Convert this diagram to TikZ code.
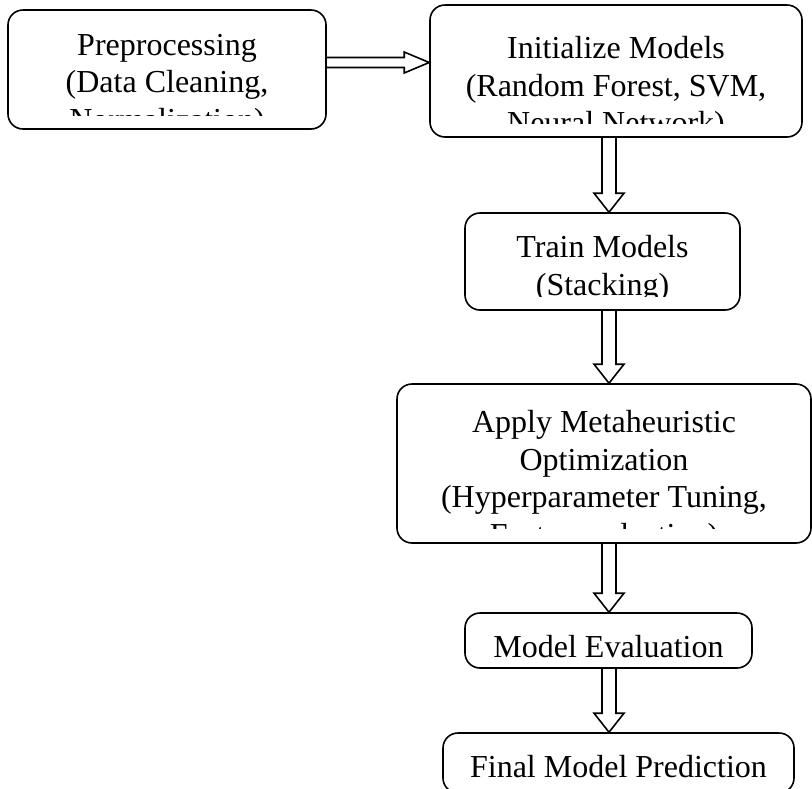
\documentclass[tikz,border=0pt]{standalone}
\usepackage{fontspec}
\setmainfont{Liberation Serif}
\usepackage{tikz}
\usetikzlibrary{calc}
\tikzset{
  flow/box/.style={draw, line width=1.6pt, rounded corners=15pt, inner sep=0pt},
  flow/text/.style={font=\fontsize{32}{37.5}\selectfont, align=center, inner sep=0pt, minimum size=0pt,
    execute at begin node=\strut},
  flow/label/.style n args={3}{path picture={
    \clip[sharp corners] ([yshift=#3]path picture bounding box.south west) rectangle (path picture bounding box.north east);
    \node[flow/text, anchor=north] at ([yshift=22.5pt-#2]path picture bounding box.north) {#1};}},
  flow/arrow/.style n args={3}{line width=1.6pt, to path={
    let \p1=($(\tikztotarget)!#3!(\tikztostart)$) in
    ($(\tikztostart)!#1!90:(\tikztotarget)$) -- ($(\p1)!#1!90:(\tikztotarget)$)
    -- ($(\p1)!#2!90:(\tikztotarget)$) -- (\tikztotarget)
    -- ($(\p1)!#2!-90:(\tikztotarget)$) -- ($(\p1)!#1!-90:(\tikztotarget)$)
    -- ($(\tikztostart)!#1!-90:(\tikztotarget)$)}}
}

\begin{document}
\begin{tikzpicture}[x=1pt, y=-1pt]
  \clip (0,0) rectangle (812,788);

  \node[flow/box, minimum width=318pt, minimum height=119pt,
    flow/label={Preprocessing\\(Data Cleaning,\\Normalization)}{46pt}{14pt}] (pre) at (167,69.5) {};
  \node[flow/box, minimum width=372pt, minimum height=132pt,
    flow/label={Initialize Models\\(Random Forest, SVM,\\Neural Network)}{53pt}{14pt}] (init) at (616,71) {};
  \node[flow/box, minimum width=275pt, minimum height=97pt,
    flow/label={Train Models\\(Stacking)}{44pt}{14pt}] (train) at (602.5,261.5) {};
  \node[flow/box, minimum width=414pt, minimum height=159pt,
    flow/label={Apply Metaheuristic\\Optimization\\(Hyperparameter Tuning,\\Feature selection)}{48pt}{15pt}] (meta) at (604,463.5) {};
  \node[flow/box, minimum width=287pt, minimum height=55pt,
    flow/label={Model Evaluation}{40pt}{0pt}] (eval) at (608.5,640.5) {};
  \node[flow/box, minimum width=351pt, minimum height=60pt,
    flow/label={Final Model Prediction}{40pt}{0pt}] (final) at (618.5,763) {};

  \coordinate (axis) at (609,0);
  \draw[flow/arrow={5pt}{10.5pt}{25pt}] ([yshift=7pt]pre.east) to ([yshift=8.5pt]init.west);
  \draw[flow/arrow={7pt}{15pt}{19pt}] (init.south -| axis) to (train.north -| axis);
  \draw[flow/arrow={7pt}{15pt}{19pt}] (train.south -| axis) to (meta.north -| axis);
  \draw[flow/arrow={7pt}{15pt}{19pt}] (meta.south -| axis) to (eval.north -| axis);
  \draw[flow/arrow={7pt}{15pt}{19pt}] (eval.south -| axis) to (final.north -| axis);
\end{tikzpicture}
\end{document}
